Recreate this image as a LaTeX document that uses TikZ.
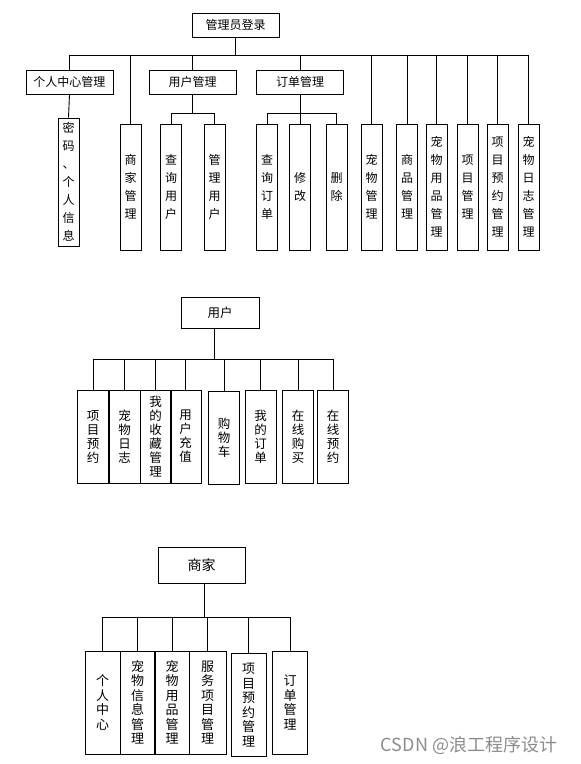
\documentclass[tikz,border=0pt]{standalone}
\usepackage{fontspec}
\setmainfont{Noto Sans CJK SC}

\begin{document}
\begin{tikzpicture}[x=1pt, y=-1pt,
    hbox/.style = {draw, line width=0.9pt, inner sep=0pt, minimum width=87pt, minimum height=24pt, font=\fontsize{12}{14}\selectfont},
    vbox/.style = {draw, line width=0.9pt, inner sep=0pt, minimum width=21pt, minimum height=126pt, align=center, font=\fontsize{12}{18}\selectfont},
    ubox/.style = {vbox, minimum width=31pt, minimum height=93pt, font=\fontsize{12.5}{14}\selectfont},
    sbox/.style = {vbox, minimum width=35pt, minimum height=103pt, font=\fontsize{13}{14.5}\selectfont},
    link/.style = {line width=0.9pt}]
\useasboundingbox (0,0) rectangle (581,764);

% 管理员
\node[hbox] (g) at (235.5,25) {管理员登录};
\node[hbox] (g1) at (69.5,82) {个人中心管理};
\node[vbox] (g2) at (130.5,187) {商\\家\\管\\理};
\node[hbox] (g3) at (192.5,82) {用户管理};
\node[hbox] (g4) at (300,82) {订单管理};
\node[vbox] (g5) at (371.5,187) {宠\\物\\管\\理};
\node[vbox] (g6) at (407,187) {商\\品\\管\\理};
\node[vbox] (g7) at (436.5,187) {宠\\物\\用\\品\\管\\理};
\node[vbox] (g8) at (467.5,187) {项\\目\\管\\理};
\node[vbox] (g9) at (497.5,187) {项\\目\\预\\约\\管\\理};
\node[vbox] (g10) at (528.5,187) {宠\\物\\日\\志\\管\\理};
\node[vbox, minimum height=128pt] (g1a) at (68.5,182) {密\\码\\、\\个\\人\\信\\息};
\node[vbox] (g3a) at (171,187) {查\\询\\用\\户};
\node[vbox] (g3b) at (214.5,187) {管\\理\\用\\户};
\node[vbox] (g4a) at (267,187) {查\\询\\订\\单};
\node[vbox] (g4b) at (300,187) {修\\改};
\node[vbox] (g4c) at (336.5,187) {删\\除};
\coordinate (gb) at (0,55);
\coordinate (gb2) at (0,113);
\draw[link] (g.south) -- (g.south |- gb);
\draw[link] (g1.north |- gb) -- (g10.north |- gb);
\draw[link] (g1.north) -- (g1.north |- gb);
\draw[link] (g2.north) -- (g2.north |- gb);
\draw[link] (g3.north) -- (g3.north |- gb);
\draw[link] (g4.north) -- (g4.north |- gb);
\draw[link] (g5.north) -- (g5.north |- gb);
\draw[link] (g6.north) -- (g6.north |- gb);
\draw[link] (g7.north) -- (g7.north |- gb);
\draw[link] (g8.north) -- (g8.north |- gb);
\draw[link] (g9.north) -- (g9.north |- gb);
\draw[link] (g10.north) -- (g10.north |- gb);
\draw[link] (g1.south) -- (g1a.north);
\draw[link] (g3.south) -- (g3.south |- gb2);
\draw[link] (g3a.north |- gb2) -- (g3b.north |- gb2);
\draw[link] (g3a.north) -- (g3a.north |- gb2);
\draw[link] (g3b.north) -- (g3b.north |- gb2);
\draw[link] (g4.south) -- (g4b.north);
\draw[link] (g4a.north |- gb2) -- (g4c.north |- gb2);
\draw[link] (g4a.north) -- (g4a.north |- gb2);
\draw[link] (g4c.north) -- (g4c.north |- gb2);

% 用户
\node[hbox, minimum width=78pt, minimum height=31pt, font=\fontsize{12.5}{14}\selectfont] (u) at (220,312.5) {用户};
\node[ubox] (u1) at (93,436.5) {项\\目\\预\\约};
\node[ubox] (u2) at (124.5,436.5) {宠\\物\\日\\志};
\node[ubox] (u3) at (155.5,436.5) {我\\的\\收\\藏\\管\\理};
\node[ubox] (u4) at (185.5,436.5) {用\\户\\充\\值};
\node[ubox] (u5) at (224,438) {购\\物\\车};
\node[ubox] (u6) at (260.5,436.5) {我\\的\\订\\单};
\node[ubox] (u7) at (298,436.5) {在\\线\\购\\买};
\node[ubox] (u8) at (333,436.5) {在\\线\\预\\约};
\coordinate (ub) at (0,359);
\draw[link] ([xshift=-6pt]u.south) -- ([xshift=-6pt]u.south |- ub);
\draw[link] (u1.north |- ub) -- (u8.north |- ub);
\draw[link] (u1.north) -- (u1.north |- ub);
\draw[link] (u2.north) -- (u2.north |- ub);
\draw[link] (u3.north) -- (u3.north |- ub);
\draw[link] (u4.north) -- (u4.north |- ub);
\draw[link] (u5.north) -- (u5.north |- ub);
\draw[link] (u6.north) -- (u6.north |- ub);
\draw[link] (u7.north) -- (u7.north |- ub);
\draw[link] (u8.north) -- (u8.north |- ub);

% 商家
\node[hbox, minimum height=36pt, font=\fontsize{14}{16}\selectfont] (s) at (201.5,565) {商家};
\node[sbox] (s1) at (102.5,702.5) {个\\人\\中\\心};
\node[sbox] (s2) at (137.5,702.5) {宠\\物\\信\\息\\管\\理};
\node[sbox] (s3) at (172,702.5) {宠\\物\\用\\品\\管\\理};
\node[sbox, minimum width=37pt] (s4) at (207.5,702.5) {服\\务\\项\\目\\管\\理};
\node[sbox] (s5) at (248.5,705) {项\\目\\预\\约\\管\\理};
\node[sbox] (s6) at (290,702.5) {订\\单\\管\\理};
\coordinate (sb) at (0,617);
\draw[link] ([xshift=2.5pt]s.south) -- ([xshift=2.5pt]s.south |- sb);
\draw[link] (s1.north |- sb) -- (s6.north |- sb);
\draw[link] (s1.north) -- (s1.north |- sb);
\draw[link] (s2.north) -- (s2.north |- sb);
\draw[link] (s3.north) -- (s3.north |- sb);
\draw[link] (s4.north) -- (s4.north |- sb);
\draw[link] (s5.north) -- (s5.north |- sb);
\draw[link] (s6.north) -- (s6.north |- sb);

\node[text=black!45, font=\fontsize{18}{20}\selectfont] (w) at (469,745) {CSDN @浪工程序设计};
\end{tikzpicture}
\end{document}
